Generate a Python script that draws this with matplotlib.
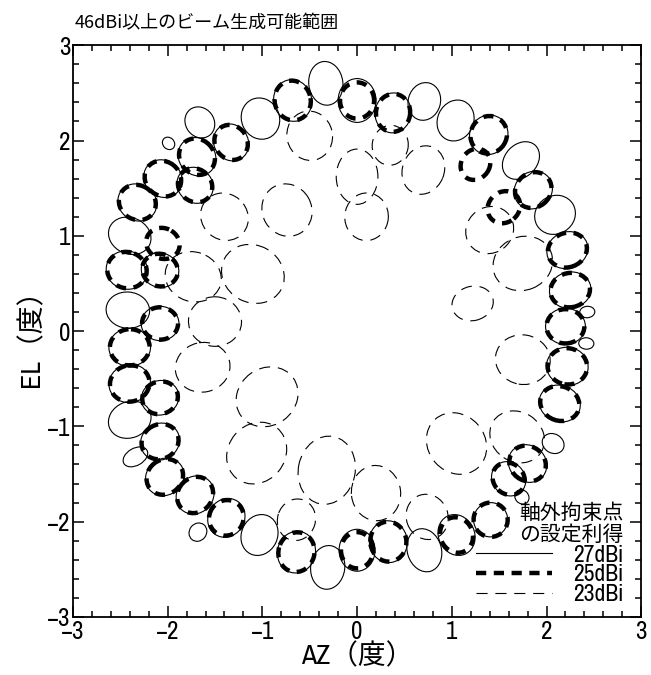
import numpy as np
import matplotlib
matplotlib.use("Agg")
import matplotlib.pyplot as plt
from matplotlib.patches import Ellipse
from matplotlib.lines import Line2D
from matplotlib import font_manager as fm

# ---------------- data ----------------
# 27 dBi contour loops: centre (AZ, EL) and semi-axes (radial, tangential), degrees
l27_x = [0.00, -0.33, -0.68, -1.02, -1.33, -1.66, -1.69, -1.71, -2.05, -2.32, -1.99, -2.40, -2.43, -2.08,
         -2.42, -2.40, -2.08, -2.40, -2.08, -2.40, -2.08, -2.34, -2.03, -1.71, -1.68, -1.38, -1.03,
         -0.64, -0.31, 0.00, 0.33, 0.71, 1.05, 1.41, 1.74, 1.60, 1.80, 2.07, 2.14, 2.22, 2.42, 2.43,
         2.20, 2.25, 2.22, 2.09, 1.86, 1.73, 1.39, 1.04, 0.71, 0.38]
l27_y = [2.42, 2.60, 2.42, 2.23, 1.98, 2.19, 1.83, 1.53, 1.60, 1.35, 1.97, 1.00, 0.64, 0.64,
         0.22, -0.17, 0.08, -0.55, -0.70, -0.93, -1.16, -1.32, -1.53, -1.72, -2.11, -1.96, -2.14,
         -2.32, -2.48, -2.30, -2.21, -2.30, -2.14, -1.98, -1.74, -1.55, -1.39, -1.18, -0.76, -0.37, -0.13, 0.20,
         0.05, 0.43, 0.85, 1.22, 1.48, 1.79, 2.06, 2.21, 2.41, 2.29]
l27_a = [0.23, 0.23, 0.22, 0.22, 0.20, 0.17, 0.21, 0.20, 0.21, 0.21, 0.07, 0.23, 0.22, 0.20,
         0.23, 0.22, 0.20, 0.22, 0.20, 0.23, 0.21, 0.14, 0.21, 0.21, 0.10, 0.21, 0.22,
         0.22, 0.23, 0.22, 0.22, 0.23, 0.22, 0.18, 0.08, 0.19, 0.21, 0.12, 0.22, 0.22, 0.08, 0.08,
         0.21, 0.22, 0.22, 0.22, 0.21, 0.22, 0.21, 0.22, 0.20, 0.21]
l27_b = [0.20, 0.18, 0.20, 0.20, 0.18, 0.15, 0.19, 0.18, 0.19, 0.19, 0.06, 0.19, 0.20, 0.18,
         0.19, 0.20, 0.18, 0.20, 0.18, 0.19, 0.19, 0.09, 0.19, 0.19, 0.09, 0.19, 0.19,
         0.20, 0.18, 0.19, 0.20, 0.18, 0.19, 0.18, 0.07, 0.17, 0.19, 0.10, 0.19, 0.20, 0.06, 0.06,
         0.19, 0.19, 0.19, 0.20, 0.19, 0.17, 0.20, 0.19, 0.17, 0.19]

# 25 dBi contour loops
l25_x = [-0.68, -1.33, -1.69, -1.71, -2.05, -2.32, -2.05, -2.43, -2.08, -2.40, -2.08, -2.40, -2.08,
         -2.08, -2.03, -1.71, -1.38, -0.64, 0.00, 0.33, 1.05, 1.41, 1.60, 1.80, 2.14, 2.22,
         2.20, 2.25, 2.22, 1.86, 1.39, 0.38, 0.00, 1.55, 1.25]
l25_y = [2.42, 1.98, 1.83, 1.53, 1.60, 1.35, 0.92, 0.64, 0.64, -0.17, 0.08, -0.55, -0.70,
         -1.16, -1.53, -1.72, -1.96, -2.32, -2.30, -2.21, -2.14, -1.98, -1.55, -1.39, -0.76, -0.37,
         0.05, 0.43, 0.85, 1.48, 2.06, 2.29, 2.42, 1.30, 1.75]
l25_a = [0.21, 0.19, 0.20, 0.19, 0.20, 0.20, 0.18, 0.21, 0.19, 0.21, 0.19, 0.21, 0.19,
         0.20, 0.20, 0.20, 0.19, 0.21, 0.19, 0.21, 0.19, 0.18, 0.18, 0.20, 0.21, 0.21,
         0.20, 0.21, 0.21, 0.20, 0.20, 0.20, 0.19, 0.18, 0.17]
l25_b = [0.19, 0.17, 0.18, 0.17, 0.18, 0.18, 0.16, 0.19, 0.17, 0.19, 0.17, 0.19, 0.17,
         0.18, 0.18, 0.18, 0.18, 0.19, 0.17, 0.19, 0.17, 0.18, 0.16, 0.18, 0.18, 0.19,
         0.18, 0.18, 0.18, 0.18, 0.19, 0.18, 0.18, 0.16, 0.15]

# 23 dBi contour loops
l23_x = [-0.50, 0.00, 0.70, -0.74, -1.10, -1.73, -1.40, -1.50, -1.63, -0.95, -1.06, -0.32, -0.64,
         0.74, 0.20, 1.05, 1.69, 1.75, 1.40, 1.22, 1.75, 0.10, 0.35]
l23_y = [2.05, 1.62, 1.69, 1.27, 0.60, 0.57, 1.20, 0.10, -0.38, -0.69, -1.28, -1.46, -1.98,
         -1.95, -1.70, -1.18, -1.11, 0.71, 1.06, 0.29, -0.30, 1.20, 1.95]
l23_a = [0.26, 0.29, 0.26, 0.28, 0.34, 0.30, 0.26, 0.28, 0.29, 0.34, 0.34, 0.36, 0.22,
         0.24, 0.29, 0.34, 0.30, 0.32, 0.26, 0.22, 0.29, 0.25, 0.21]
l23_b = [0.24, 0.22, 0.22, 0.26, 0.30, 0.26, 0.24, 0.26, 0.26, 0.30, 0.30, 0.30, 0.20,
         0.22, 0.26, 0.30, 0.26, 0.28, 0.24, 0.18, 0.26, 0.23, 0.19]

legend_labels = ["27dBi", "25dBi", "23dBi"]
title_text = "46dBi以上のビーム生成可能範囲"
legend_title = "軸外拘束点\nの設定利得"
ticks = [-3, -2, -1, 0, 1, 2, 3]

# ---------------- fonts ----------------
CJK = "Noto Sans CJK JP"
narrow_family, narrow_stretch = "Liberation Sans", "normal"
_cands = []
for f in fm.fontManager.ttflist:
    nm = f.name
    st = str(f.stretch)
    if "Narrow" in nm or "Condensed" in nm:
        _cands.append((0 if "Liberation" in nm else 1, nm, "normal"))
    elif st in ("condensed", "semi-condensed", "extra-condensed") or (st.isdigit() and int(st) < 500):
        _cands.append((2, nm, st))
if _cands:
    _cands.sort()
    narrow_family, narrow_stretch = _cands[0][1], _cands[0][2]

plt.rcParams["font.family"] = [narrow_family, CJK, "DejaVu Sans"]
plt.rcParams["font.stretch"] = narrow_stretch

style27 = dict(lw=0.8, ls="-")
style25 = dict(lw=3.2, ls=(0, (2.3, 1.7)))
style23 = dict(lw=0.8, ls=(0, (10, 7)))

fig = plt.figure(figsize=(6.51, 6.75), dpi=100)
ax = fig.add_axes([0.112, 0.086, 0.873, 0.847])


def draw_loops(xs, ys, a, b, st):
    for x, y, ra, rb in zip(xs, ys, a, b):
        ang = np.degrees(np.arctan2(y, x))
        ax.add_patch(Ellipse((x, y), 2 * ra, 2 * rb, angle=ang, fill=False,
                             edgecolor="black", linewidth=st["lw"], linestyle=st["ls"]))


draw_loops(l23_x, l23_y, l23_a, l23_b, style23)
draw_loops(l27_x, l27_y, l27_a, l27_b, style27)
draw_loops(l25_x, l25_y, l25_a, l25_b, style25)

ax.set_xlim(-3, 3)
ax.set_ylim(-3, 3)
ax.set_xticks(ticks)
ax.set_yticks(ticks)
ax.set_xticks(np.arange(-3, 3.01, 0.2), minor=True)
ax.set_yticks(np.arange(-3, 3.01, 0.2), minor=True)
ax.tick_params(which="both", direction="in", top=True, right=True, labelsize=18, width=1.1)
ax.tick_params(which="major", length=8, pad=2)
ax.tick_params(which="minor", length=4)
for s in ax.spines.values():
    s.set_linewidth(1.3)

ax.set_xlabel("AZ（度）", fontsize=20, labelpad=0)
ax.set_ylabel("EL（度）", fontsize=20, labelpad=2)
fig.text(0.115, 0.966, title_text, fontsize=13, family=[CJK], va="center", ha="left")

handles = [Line2D([], [], color="black", linewidth=s["lw"], linestyle=s["ls"])
           for s in (style27, style25, style23)]
leg = ax.legend(handles, legend_labels, title=legend_title, loc="lower right",
                bbox_to_anchor=(0.99, 0.0), frameon=False, fontsize=17,
                title_fontproperties={"family": [CJK], "size": 15},
                handlelength=3.2, handletextpad=0.9, labelspacing=-0.05,
                borderaxespad=0.1, alignment="right")
leg.get_title().set_linespacing(1.0)

fig.savefig("out.png", dpi=100)
